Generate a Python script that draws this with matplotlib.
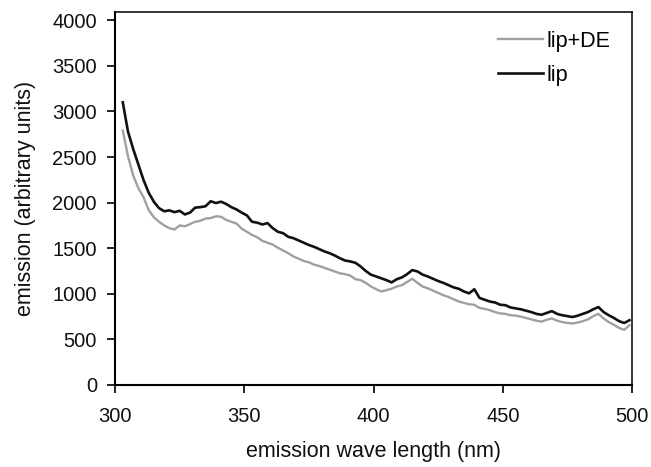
import numpy as np
import matplotlib
matplotlib.use('Agg')
import matplotlib.pyplot as plt

# emission wavelengths (nm), sampled every 2 nm
wavelength = np.arange(303, 501, 2)

# lip (black curve)
lip = [3100, 2780, 2590, 2420, 2250, 2110, 2010, 1940, 1905, 1915,
       1895, 1910, 1870, 1890, 1945, 1950, 1960, 2015, 1995, 2010,
       1985, 1950, 1925, 1890, 1860, 1790, 1780, 1760, 1775, 1720,
       1680, 1665, 1625, 1610, 1585, 1560, 1535, 1515, 1490, 1465,
       1445, 1420, 1390, 1365, 1355, 1340, 1300, 1250, 1210, 1190,
       1170, 1150, 1125, 1160, 1180, 1215, 1260, 1245, 1210, 1190,
       1165, 1140, 1120, 1095, 1070, 1055, 1025, 1005, 1050, 955,
       935, 915, 905, 880, 875, 850, 840, 830, 815, 800,
       780, 770, 790, 810, 780, 765, 755, 745, 760, 780,
       800, 830, 855, 800, 765, 735, 700, 680, 710]

# lip+DE (grey curve)
lip_de = [2790, 2510, 2300, 2160, 2060, 1920, 1840, 1790, 1750, 1720,
          1705, 1750, 1740, 1765, 1790, 1800, 1825, 1830, 1850, 1845,
          1810, 1790, 1770, 1715, 1680, 1645, 1620, 1580, 1560, 1540,
          1505, 1475, 1445, 1410, 1385, 1360, 1345, 1320, 1305, 1285,
          1265, 1245, 1225, 1215, 1200, 1160, 1150, 1120, 1080, 1050,
          1025, 1040, 1055, 1080, 1095, 1130, 1165, 1120, 1080, 1060,
          1035, 1010, 985, 965, 940, 915, 900, 885, 880, 845,
          835, 820, 800, 785, 780, 765, 760, 750, 735, 720,
          705, 695, 715, 730, 705, 690, 680, 675, 685, 700,
          720, 755, 780, 730, 690, 660, 625, 605, 655]

plt.rcParams['font.family'] = 'Liberation Sans'

fig = plt.figure(figsize=(6.51, 4.67), dpi=100)
ax = fig.add_axes([0.1767, 0.1756, 0.7941, 0.7987])

ax.plot(wavelength, lip_de, color='#a0a0a0', linewidth=1.7, label='lip+DE')
ax.plot(wavelength, lip, color='#111111', linewidth=1.9, label='lip')

ax.set_xlim(300, 500)
ax.set_ylim(0, 4090)
ax.set_xticks([300, 350, 400, 450, 500])
ax.set_yticks(np.arange(0, 4001, 500))
ax.tick_params(axis='both', direction='out', length=6, width=1.3, labelsize=14.5,
               pad=7, color='#111111', labelcolor='#111111')
ax.tick_params(axis='x', pad=10)

for side in ['left', 'bottom']:
    ax.spines[side].set_linewidth(1.5)
for side in ['top', 'right']:
    ax.spines[side].set_linewidth(1.1)

ax.set_xlabel('emission wave length (nm)', fontsize=15.5, labelpad=11, color='#111111')
ax.set_ylabel('emission (arbitrary units)', fontsize=15.5, labelpad=12, color='#111111')

ax.legend(loc='upper left', bbox_to_anchor=(0.741, 0.95), frameon=False,
          prop={'size': 15.5}, handlelength=2.1, handletextpad=0.15,
          labelspacing=0.62, borderpad=0, borderaxespad=0)

plt.savefig('out.png', dpi=100)
